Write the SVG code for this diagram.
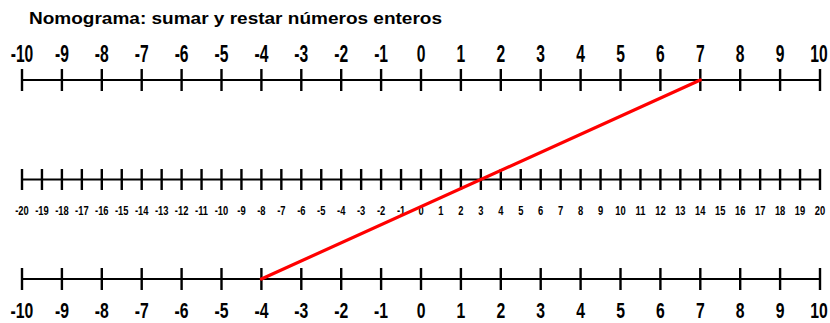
<svg xmlns="http://www.w3.org/2000/svg" width="830" height="323" viewBox="0 0 830 323">
<style>
.ax{stroke:#000;stroke-width:2.2;fill:none}
.tk{stroke:#000;stroke-width:2.4;fill:none}
.big{font-family:"Liberation Sans",Arial,sans-serif;font-weight:bold;font-size:23px;text-anchor:middle;fill:#000}
.bb{font-size:22.5px}
.sm{font-family:"Liberation Sans",Arial,sans-serif;font-weight:bold;font-size:12px;text-anchor:middle;fill:#000}
.ttl{font-family:"Liberation Sans",Arial,sans-serif;font-weight:bold;font-size:16px;fill:#000}
</style>
<rect width="830" height="323" fill="#fff"/>
<g id="title"><text class="ttl" x="29" y="24" textLength="413" lengthAdjust="spacingAndGlyphs">Nomograma: sumar y restar números enteros</text></g>
<g id="axis-top">
<path class="ax" d="M22 80H820"/>
<path class="tk" d="M22 69V91M61.9 69V91M101.8 69V91M141.7 69V91M181.6 69V91M221.5 69V91M261.4 69V91M301.3 69V91M341.2 69V91M381.1 69V91M421 69V91M460.9 69V91M500.8 69V91M540.7 69V91M580.6 69V91M620.5 69V91M660.4 69V91M700.3 69V91M740.2 69V91M780.1 69V91M820 69V91"/>
<text class="big" transform="translate(22,62) scale(0.68,1)">-10</text>
<text class="big" transform="translate(61.9,62) scale(0.68,1)">-9</text>
<text class="big" transform="translate(101.8,62) scale(0.68,1)">-8</text>
<text class="big" transform="translate(141.7,62) scale(0.68,1)">-7</text>
<text class="big" transform="translate(181.6,62) scale(0.68,1)">-6</text>
<text class="big" transform="translate(221.5,62) scale(0.68,1)">-5</text>
<text class="big" transform="translate(261.4,62) scale(0.68,1)">-4</text>
<text class="big" transform="translate(301.3,62) scale(0.68,1)">-3</text>
<text class="big" transform="translate(341.2,62) scale(0.68,1)">-2</text>
<text class="big" transform="translate(381.1,62) scale(0.68,1)">-1</text>
<text class="big" transform="translate(421,62) scale(0.68,1)">0</text>
<text class="big" transform="translate(460.9,62) scale(0.68,1)">1</text>
<text class="big" transform="translate(500.8,62) scale(0.68,1)">2</text>
<text class="big" transform="translate(540.7,62) scale(0.68,1)">3</text>
<text class="big" transform="translate(580.6,62) scale(0.68,1)">4</text>
<text class="big" transform="translate(620.5,62) scale(0.68,1)">5</text>
<text class="big" transform="translate(660.4,62) scale(0.68,1)">6</text>
<text class="big" transform="translate(700.3,62) scale(0.68,1)">7</text>
<text class="big" transform="translate(740.2,62) scale(0.68,1)">8</text>
<text class="big" transform="translate(780.1,62) scale(0.68,1)">9</text>
<text class="big" transform="translate(819,62) scale(0.68,1)">10</text>
</g>
<g id="axis-middle">
<path class="ax" d="M22 179.5H820"/>
<path class="tk" d="M22 169V190M41.95 169V190M61.9 169V190M81.85 169V190M101.8 169V190M121.75 169V190M141.7 169V190M161.65 169V190M181.6 169V190M201.55 169V190M221.5 169V190M241.45 169V190M261.4 169V190M281.35 169V190M301.3 169V190M321.25 169V190M341.2 169V190M361.15 169V190M381.1 169V190M401.05 169V190M421 169V190M440.95 169V190M460.9 169V190M480.85 169V190M500.8 169V190M520.75 169V190M540.7 169V190M560.65 169V190M580.6 169V190M600.55 169V190M620.5 169V190M640.45 169V190M660.4 169V190M680.35 169V190M700.3 169V190M720.25 169V190M740.2 169V190M760.15 169V190M780.1 169V190M800.05 169V190M820 169V190"/>
<text class="sm" transform="translate(22,215) scale(0.78,1)">-20</text>
<text class="sm" transform="translate(41.95,215) scale(0.78,1)">-19</text>
<text class="sm" transform="translate(61.9,215) scale(0.78,1)">-18</text>
<text class="sm" transform="translate(81.85,215) scale(0.78,1)">-17</text>
<text class="sm" transform="translate(101.8,215) scale(0.78,1)">-16</text>
<text class="sm" transform="translate(121.75,215) scale(0.78,1)">-15</text>
<text class="sm" transform="translate(141.7,215) scale(0.78,1)">-14</text>
<text class="sm" transform="translate(161.65,215) scale(0.78,1)">-13</text>
<text class="sm" transform="translate(181.6,215) scale(0.78,1)">-12</text>
<text class="sm" transform="translate(201.55,215) scale(0.78,1)">-11</text>
<text class="sm" transform="translate(221.5,215) scale(0.78,1)">-10</text>
<text class="sm" transform="translate(241.45,215) scale(0.78,1)">-9</text>
<text class="sm" transform="translate(261.4,215) scale(0.78,1)">-8</text>
<text class="sm" transform="translate(281.35,215) scale(0.78,1)">-7</text>
<text class="sm" transform="translate(301.3,215) scale(0.78,1)">-6</text>
<text class="sm" transform="translate(321.25,215) scale(0.78,1)">-5</text>
<text class="sm" transform="translate(341.2,215) scale(0.78,1)">-4</text>
<text class="sm" transform="translate(361.15,215) scale(0.78,1)">-3</text>
<text class="sm" transform="translate(381.1,215) scale(0.78,1)">-2</text>
<text class="sm" transform="translate(401.05,215) scale(0.78,1)">-1</text>
<text class="sm" transform="translate(421,215) scale(0.78,1)">0</text>
<text class="sm" transform="translate(440.95,215) scale(0.78,1)">1</text>
<text class="sm" transform="translate(460.9,215) scale(0.78,1)">2</text>
<text class="sm" transform="translate(480.85,215) scale(0.78,1)">3</text>
<text class="sm" transform="translate(500.8,215) scale(0.78,1)">4</text>
<text class="sm" transform="translate(520.75,215) scale(0.78,1)">5</text>
<text class="sm" transform="translate(540.7,215) scale(0.78,1)">6</text>
<text class="sm" transform="translate(560.65,215) scale(0.78,1)">7</text>
<text class="sm" transform="translate(580.6,215) scale(0.78,1)">8</text>
<text class="sm" transform="translate(600.55,215) scale(0.78,1)">9</text>
<text class="sm" transform="translate(620.5,215) scale(0.78,1)">10</text>
<text class="sm" transform="translate(640.45,215) scale(0.78,1)">11</text>
<text class="sm" transform="translate(660.4,215) scale(0.78,1)">12</text>
<text class="sm" transform="translate(680.35,215) scale(0.78,1)">13</text>
<text class="sm" transform="translate(700.3,215) scale(0.78,1)">14</text>
<text class="sm" transform="translate(720.25,215) scale(0.78,1)">15</text>
<text class="sm" transform="translate(740.2,215) scale(0.78,1)">16</text>
<text class="sm" transform="translate(760.15,215) scale(0.78,1)">17</text>
<text class="sm" transform="translate(780.1,215) scale(0.78,1)">18</text>
<text class="sm" transform="translate(800.05,215) scale(0.78,1)">19</text>
<text class="sm" transform="translate(820,215) scale(0.78,1)">20</text>
</g>
<g id="axis-bottom">
<path class="ax" d="M22 279H820"/>
<path class="tk" d="M22 268V290M61.9 268V290M101.8 268V290M141.7 268V290M181.6 268V290M221.5 268V290M261.4 268V290M301.3 268V290M341.2 268V290M381.1 268V290M421 268V290M460.9 268V290M500.8 268V290M540.7 268V290M580.6 268V290M620.5 268V290M660.4 268V290M700.3 268V290M740.2 268V290M780.1 268V290M820 268V290"/>
<text class="big bb" transform="translate(22,318) scale(0.7,1)">-10</text>
<text class="big bb" transform="translate(61.9,318) scale(0.7,1)">-9</text>
<text class="big bb" transform="translate(101.8,318) scale(0.7,1)">-8</text>
<text class="big bb" transform="translate(141.7,318) scale(0.7,1)">-7</text>
<text class="big bb" transform="translate(181.6,318) scale(0.7,1)">-6</text>
<text class="big bb" transform="translate(221.5,318) scale(0.7,1)">-5</text>
<text class="big bb" transform="translate(261.4,318) scale(0.7,1)">-4</text>
<text class="big bb" transform="translate(301.3,318) scale(0.7,1)">-3</text>
<text class="big bb" transform="translate(341.2,318) scale(0.7,1)">-2</text>
<text class="big bb" transform="translate(381.1,318) scale(0.7,1)">-1</text>
<text class="big bb" transform="translate(421,318) scale(0.7,1)">0</text>
<text class="big bb" transform="translate(460.9,318) scale(0.7,1)">1</text>
<text class="big bb" transform="translate(500.8,318) scale(0.7,1)">2</text>
<text class="big bb" transform="translate(540.7,318) scale(0.7,1)">3</text>
<text class="big bb" transform="translate(580.6,318) scale(0.7,1)">4</text>
<text class="big bb" transform="translate(620.5,318) scale(0.7,1)">5</text>
<text class="big bb" transform="translate(660.4,318) scale(0.7,1)">6</text>
<text class="big bb" transform="translate(700.3,318) scale(0.7,1)">7</text>
<text class="big bb" transform="translate(740.2,318) scale(0.7,1)">8</text>
<text class="big bb" transform="translate(780.1,318) scale(0.7,1)">9</text>
<text class="big bb" transform="translate(819,318) scale(0.7,1)">10</text>
</g>
<g id="connectors">
<line x1="700.3" y1="80" x2="261.4" y2="279" stroke="#f00" stroke-width="3.2" stroke-linecap="round"/>
</g>
</svg>
